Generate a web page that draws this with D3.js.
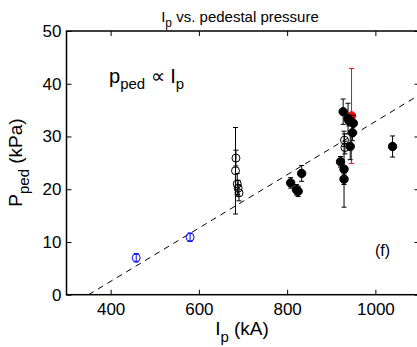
<!DOCTYPE html>
<html>
<head>
<meta charset="utf-8">
<script src="https://cdn.jsdelivr.net/npm/d3@7/dist/d3.min.js"></script>
<style>
  body { margin: 0; background: #fff; }
  text { font-family: "Liberation Sans", Arial, Helvetica, sans-serif; fill: #000; }
</style>
</head>
<body>
<div id="chart"></div>
<script>
// Blue open circles
var ipBlue  = [458, 580];
var pBlue   = [7.0, 10.9];
var errBlue = [0.8, 0.8];

// Black open circles
var ipOpen  = [683, 684, 687, 689, 691, 930, 931];
var pOpen   = [23.5, 25.9, 21.0, 20.2, 19.3, 29.3, 27.9];
var errOpen = [8.2, 1.5, 2.0, 1.5, 1.5, 1.2, 1.2];

// Red filled circle
var ipRed  = [946];
var pRed   = [33.9];
var errRed = [9.0];

// Black filled circles
var ipFill  = [808, 821, 825, 833, 921, 927, 929, 929, 938, 940, 943, 948, 950, 1039];
var pFill   = [21.2, 19.9, 19.6, 23.0, 25.2, 34.7, 23.8, 21.9, 33.4, 33.0, 28.1, 30.7, 32.5, 28.1];
var errFill = [1.0, 1.0, 1.0, 1.5, 1.0, 2.4, 7.2, 1.0, 2.9, 1.0, 2.5, 1.5, 1.5, 2.0];

// Fit line (dashed)
var fitIp = [350, 1100];
var fitP  = [0, 37.9];

var xTicks = [400, 600, 800, 1000];
var yTicks = [0, 10, 20, 30, 40, 50];

var width = 417, height = 347;
var margins = {left: 66.5, top: 31, right: 419.5, bottom: 294.7};

var svg = d3.select("#chart").append("svg")
    .attr("width", width)
    .attr("height", height);

var x = d3.scaleLinear().domain([300, 1100]).range([margins.left, margins.right]);
var y = d3.scaleLinear().domain([0, 50]).range([margins.bottom, margins.top]);

/* Axes */
var tickFont = 17;
var xAxis = d3.axisBottom(x).tickValues(xTicks).tickFormat(d3.format("d"))
    .tickSize(-5).tickSizeOuter(0).tickPadding(8);
var yAxis = d3.axisLeft(y).tickValues(yTicks).tickFormat(d3.format("d"))
    .tickSize(-5).tickSizeOuter(0).tickPadding(5);

svg.append("g").attr("transform", "translate(0," + margins.bottom + ")").call(xAxis);
svg.append("g").attr("transform", "translate(" + margins.left + ",0)").call(yAxis);
svg.append("g").attr("transform", "translate(0," + margins.top + ")")
    .call(d3.axisTop(x).tickValues(xTicks).tickSize(-5).tickSizeOuter(0).tickFormat(""));
svg.append("g").attr("transform", "translate(" + margins.right + ",0)")
    .call(d3.axisRight(y).tickValues(yTicks).tickSize(-5).tickSizeOuter(0).tickFormat(""));

svg.selectAll(".domain").remove();
svg.selectAll(".tick line").attr("stroke", "#000").attr("stroke-width", 1);
svg.selectAll(".tick text")
    .style("font-size", tickFont + "px")
    .style("font-family", '"Liberation Sans", Arial, sans-serif')
    .attr("fill", "#000");

// box
svg.append("rect")
    .attr("x", margins.left)
    .attr("y", margins.top)
    .attr("width", margins.right - margins.left)
    .attr("height", margins.bottom - margins.top)
    .attr("fill", "none")
    .attr("stroke", "#000")
    .attr("stroke-width", 1.5);

/* Clip */
svg.append("clipPath").attr("id", "plotClip").append("rect")
    .attr("x", margins.left).attr("y", margins.top)
    .attr("width", margins.right - margins.left)
    .attr("height", margins.bottom - margins.top);
var plot = svg.append("g").attr("clip-path", "url(#plotClip)");

/* Dashed fit */
plot.append("path")
    .datum(d3.zip(fitIp, fitP))
    .attr("d", d3.line().x(function(d){ return x(d[0]); }).y(function(d){ return y(d[1]); }))
    .attr("fill", "none")
    .attr("stroke", "#000")
    .attr("stroke-width", 1)
    .attr("stroke-dasharray", "6,5");

/* Draw a group of points with error bars */
function drawGroup(ip, p, err, color, filled, r){
    var data = ip.map(function(v, i){ return {x: v, y: p[i], e: err[i]}; });
    var g = plot.append("g");
    var cap = 2.5;
    g.selectAll(".ebar").data(data).enter().append("path")
        .attr("d", function(d){
            var cx = x(d.x), y1 = y(d.y + d.e), y0 = y(d.y - d.e);
            return "M" + cx + "," + y1 + "V" + y0 +
                   "M" + (cx - cap) + "," + y1 + "H" + (cx + cap) +
                   "M" + (cx - cap) + "," + y0 + "H" + (cx + cap);
        })
        .attr("stroke", color)
        .attr("stroke-width", 1)
        .attr("fill", "none");
    g.selectAll(".pt").data(data).enter().append("circle")
        .attr("cx", function(d){ return x(d.x); })
        .attr("cy", function(d){ return y(d.y); })
        .attr("r", r)
        .attr("fill", filled ? color : "none")
        .attr("stroke", color)
        .attr("stroke-width", 1);
}

drawGroup(ipBlue, pBlue, errBlue, "#0000ff", false, 4);
drawGroup(ipOpen, pOpen, errOpen, "#000", false, 4);
drawGroup(ipRed, pRed, errRed, "#ff0000", true, 4.2);
drawGroup(ipFill, pFill, errFill, "#000", true, 4.2);

/* Title */
var title = svg.append("text")
    .attr("x", 240).attr("y", 22)
    .attr("text-anchor", "middle")
    .style("font-size", "15px");
title.append("tspan").text("I");
title.append("tspan").attr("dy", 5).style("font-size", "12px").text("p");
title.append("tspan").attr("dy", -5).text(" vs. pedestal pressure");

/* X label */
var xl = svg.append("text")
    .attr("x", 242).attr("y", 335)
    .attr("text-anchor", "middle")
    .style("font-size", "19px");
xl.append("tspan").text("I");
xl.append("tspan").attr("dy", 7).style("font-size", "15px").text("p");
xl.append("tspan").attr("dy", -7).text(" (kA)");

/* Y label */
var yl = svg.append("text")
    .attr("transform", "translate(21.5,162.5) rotate(-90)")
    .attr("text-anchor", "middle")
    .style("font-size", "19px");
yl.append("tspan").text("P");
yl.append("tspan").attr("dy", 7).style("font-size", "15px").text("ped");
yl.append("tspan").attr("dy", -7).text(" (kPa)");

/* Annotation */
var ann = svg.append("text")
    .attr("x", 109).attr("y", 83)
    .style("font-size", "20px");
ann.append("tspan").text("p");
ann.append("tspan").attr("dy", 6).style("font-size", "15px").text("ped");
ann.append("tspan").attr("dy", -6).text(" \u221D I");
ann.append("tspan").attr("dy", 6).style("font-size", "15px").text("p");

svg.append("text")
    .attr("x", 375).attr("y", 256)
    .style("font-size", "16px")
    .text("(f)");
</script>
</body>
</html>
